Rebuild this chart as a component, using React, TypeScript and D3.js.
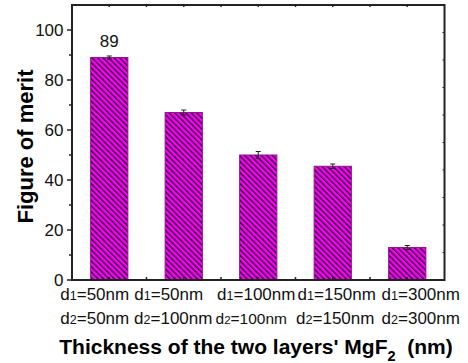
import React from "react";
import * as d3 from "d3";

// Figure of merit for each pair of MgF2 layer thicknesses
const categories = [1, 2, 3, 4, 5];
const values = [89, 67, 50, 45.5, 13];
const errors = [0.6, 1.0, 1.4, 0.9, 0.8];
const row1Labels = [["d", "1", "=50nm"], ["d", "1", "=50nm"], ["d", "1", "=100nm"], ["d", "1", "=150nm"], ["d", "1", "=300nm"]];
const row2Labels = [["d", "2", "=50nm"], ["d", "2", "=100nm"], ["d", "2", "=100nm"], ["d", "2", "=150nm"], ["d", "2", "=300nm"]];
const yTicks = [0, 20, 40, 60, 80, 100];
const yMinorTicks = [10, 30, 50, 70, 90];
const rightTicks = [11, 22, 33, 44, 55, 66, 77, 88, 99];
const annotatedIndex = 0;

const W = 468;
const H = 363;
const margin = { left: 72, right: 23.5, top: 5, bottom: 83 };
const FONT = "'Liberation Sans', Arial, Helvetica, sans-serif";

// horizontal shift of the two-line category labels (px)
const row1Shift = [-14.5, -15, -2, 4, 13.5];
const row2Shift = [-14.5, -10.5, -7, 2.5, 13.5];
const row2Size = [17, 17, 15.5, 17, 17];

export default function App() {
  const x = d3.scaleLinear().domain([0.5, 5.5]).range([margin.left, W - margin.right]);
  const y = d3.scaleLinear().domain([0, 110]).range([H - margin.bottom, margin.top]);
  const step = x(2) - x(1);
  const barW = step * 0.5;
  const x0 = x.range()[0];
  const x1 = x.range()[1];
  const y0 = y(0);
  const yTop = y(110);
  const minorX = d3.range(1.5, 5, 1);

  return (
    <svg width={W} height={H} style={{ position: "absolute", left: 0, top: 0 }} fontFamily={FONT}>
      <defs>
        <pattern id="hatch" patternUnits="userSpaceOnUse" width={3.9} height={3.9} patternTransform="rotate(-45)">
          <rect width={3.9} height={3.9} fill="#ff00ff" />
          <line x1={0.8} y1={0} x2={0.8} y2={3.9} stroke="#000" strokeWidth={1.2} />
        </pattern>
      </defs>
      <rect width={W} height={H} fill="#fff" />

      {/* bars */}
      {categories.map((c, i) => (
        <rect
          key={"b" + c}
          x={x(c) - barW / 2}
          y={y(values[i])}
          width={barW}
          height={y0 - y(values[i])}
          fill="url(#hatch)"
          stroke="#8a1a8a"
          strokeWidth={1}
        />
      ))}

      {/* error bars */}
      {categories.map((c, i) => {
        const hi = y(values[i] + errors[i]);
        const lo = y(values[i] - errors[i]);
        return (
          <g key={"e" + c} stroke="#222" strokeWidth={1}>
            <line x1={x(c)} x2={x(c)} y1={hi} y2={lo} />
            <line x1={x(c) - 2.5} x2={x(c) + 2.5} y1={hi} y2={hi} />
            <line x1={x(c) - 2.5} x2={x(c) + 2.5} y1={lo} y2={lo} />
          </g>
        );
      })}

      {/* value annotation */}
      <text x={x(categories[annotatedIndex])} y={y(values[annotatedIndex]) - 11} textAnchor="middle" fontSize={17} fill="#111">
        {values[annotatedIndex]}
      </text>

      {/* frame */}
      <rect x={x0} y={yTop} width={x1 - x0} height={y0 - yTop} fill="none" stroke="#222" strokeWidth={2} />

      {/* left axis ticks and labels */}
      {yTicks.map((t) => (
        <g key={"yt" + t}>
          <line x1={x0 - 5} x2={x0} y1={y(t)} y2={y(t)} stroke="#222" strokeWidth={1.5} />
          <text x={x0 - 8.5} y={y(t)} dy="0.33em" textAnchor="end" fontSize={17} fill="#111">
            {t}
          </text>
        </g>
      ))}
      {yMinorTicks.map((t) => (
        <line key={"ym" + t} x1={x0 - 3} x2={x0} y1={y(t)} y2={y(t)} stroke="#222" strokeWidth={1.5} />
      ))}

      {/* right axis ticks */}
      {rightTicks.map((t) => (
        <line key={"rt" + t} x1={x1 - 2} x2={x1} y1={y(t)} y2={y(t)} stroke="#222" strokeWidth={1} />
      ))}

      {/* bottom and top ticks */}
      {categories.concat(minorX).map((c) => (
        <g key={"xt" + c} stroke="#222" strokeWidth={1.5}>
          <line x1={x(c)} x2={x(c)} y1={y0} y2={y0 - 3} />
          <line x1={x(c)} x2={x(c)} y1={yTop} y2={yTop + 2} />
        </g>
      ))}

      {/* category labels */}
      {categories.map((c, i) => (
        <g key={"cl" + c} fill="#111">
          <text x={x(c) + row1Shift[i]} y={299.5} textAnchor="middle" fontSize={17}>
            {row1Labels[i][0]}
            <tspan fontSize={12.5}>{row1Labels[i][1]}</tspan>
            {row1Labels[i][2]}
          </text>
          <text x={x(c) + row2Shift[i]} y={323.5} textAnchor="middle" fontSize={row2Size[i]}>
            {row2Labels[i][0]}
            <tspan fontSize={row2Size[i] * 0.74}>{row2Labels[i][1]}</tspan>
            {row2Labels[i][2]}
          </text>
        </g>
      ))}

      {/* axis titles */}
      <text x={256} y={353.5} textAnchor="middle" fontSize={21} fontWeight="bold" fill="#000">
        Thickness of the two layers' MgF
        <tspan fontSize={14.5} dy={7}>2</tspan>
        <tspan dy={-7}>{"\u00a0 (nm)"}</tspan>
      </text>
      <text
        transform={`translate(33,146.5) rotate(-90)`}
        textAnchor="middle"
        fontSize={22}
        fontWeight="bold"
        fill="#000"
      >
        Figure of merit
      </text>
    </svg>
  );
}
